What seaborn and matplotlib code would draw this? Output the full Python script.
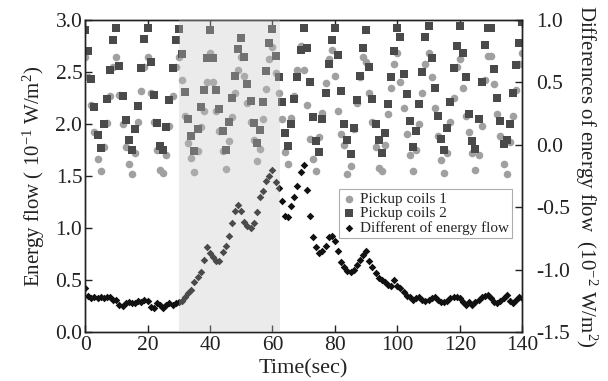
import matplotlib
matplotlib.use("Agg")
import matplotlib.pyplot as plt
import seaborn as sns
import numpy as np

time = list(range(0, 141))

coil1 = [2.64, 2.45, 2.18, 1.92, 1.66, 1.55, 1.78, 2.01, 2.27, 2.55,
         2.64, 2.28, 2.00, 1.78, 1.62, 1.52, 1.72, 2.02, 2.32, 2.55,
         2.64, 2.30, 2.02, 1.75, 1.56, 1.53, 1.70, 1.98, 2.27, 2.55,
         2.64, 2.42, 2.08, 1.82, 1.67, 1.54, 1.74, 1.97, 2.12, 2.40,
         2.68, 2.40, 2.12, 1.93, 1.74, 1.57, 1.84, 2.07, 2.30, 2.52,
         2.64, 2.46, 2.20, 2.02, 1.85, 1.64, 1.76, 2.05, 2.34, 2.62,
         2.74, 2.49, 2.30, 2.05, 1.73, 1.62, 2.06, 2.27, 2.52, 2.75,
         2.52, 2.18, 1.86, 1.66, 1.55, 1.87, 2.11, 2.39, 2.62, 2.71,
         2.46, 2.12, 1.90, 1.80, 1.52, 1.60, 1.95, 2.20, 2.45, 2.64,
         2.60, 2.30, 2.02, 1.78, 1.58, 1.55, 1.80, 2.10, 2.35, 2.58,
         2.68, 2.40, 2.15, 1.90, 1.70, 1.55, 1.75, 2.00, 2.30, 2.58,
         2.68, 2.45, 2.15, 1.88, 1.65, 1.53, 1.72, 2.02, 2.25, 2.55,
         2.62, 2.35, 2.08, 1.92, 1.72, 1.56, 1.70, 1.98, 2.42, 2.65,
         2.65, 2.38, 2.10, 1.88, 1.62, 1.52, 1.83, 2.08, 2.33, 2.58,
         2.68]

coil2 = [2.90, 2.70, 2.43, 2.16, 1.89, 1.77, 2.00, 2.24, 2.52, 2.81,
         2.92, 2.56, 2.27, 2.04, 1.85, 1.75, 1.95, 2.17, 2.54, 2.82,
         2.92, 2.60, 2.28, 2.01, 1.79, 1.75, 1.97, 2.23, 2.54, 2.81,
         2.91, 2.67, 2.31, 2.05, 1.88, 1.74, 1.95, 2.16, 2.33, 2.63,
         2.90, 2.63, 2.33, 2.14, 1.93, 1.75, 2.02, 2.25, 2.46, 2.72,
         2.83, 2.64, 2.38, 2.22, 2.01, 1.82, 1.94, 2.21, 2.51, 2.78,
         2.91, 2.65, 2.45, 2.21, 1.91, 1.79, 2.00, 2.24, 2.45, 2.71,
         2.92, 2.73, 2.40, 2.07, 1.84, 1.73, 2.05, 2.30, 2.58, 2.81,
         2.92, 2.66, 2.32, 2.00, 1.85, 1.71, 1.96, 2.23, 2.46, 2.73,
         2.90, 2.55, 2.24, 2.00, 1.85, 1.72, 1.91, 2.19, 2.45, 2.70,
         2.92, 2.84, 2.48, 2.29, 2.03, 1.78, 1.93, 2.19, 2.50, 2.84,
         2.94, 2.63, 2.35, 2.08, 1.86, 1.75, 1.96, 2.21, 2.54, 2.75,
         2.94, 2.68, 2.45, 2.10, 1.84, 1.76, 2.05, 2.40, 2.76, 2.92,
         2.92, 2.53, 2.25, 2.03, 1.81, 1.85, 2.00, 2.30, 2.57, 2.78,
         2.98]

diff = [-1.15, -1.21, -1.23, -1.22, -1.23, -1.22, -1.23, -1.22, -1.22, -1.24,
        -1.24, -1.28, -1.29, -1.27, -1.26, -1.27, -1.27, -1.25, -1.26, -1.24,
        -1.25, -1.30, -1.31, -1.27, -1.28, -1.31, -1.28, -1.27, -1.28, -1.27,
        -1.26, -1.25, -1.22, -1.19, -1.16, -1.10, -1.06, -1.02, -0.92, -0.82,
        -0.87, -0.90, -0.93, -0.93, -0.86, -0.81, -0.73, -0.63, -0.53, -0.48,
        -0.53, -0.62, -0.65, -0.67, -0.63, -0.54, -0.42, -0.37, -0.29, -0.25,
        -0.20, -0.30, -0.35, -0.45, -0.57, -0.58, -0.49, -0.42, -0.33, -0.22,
        -0.16, -0.36, -0.57, -0.74, -0.82, -0.87, -0.85, -0.81, -0.74, -0.73,
        -0.77, -0.85, -0.94, -0.98, -1.01, -1.02, -1.00, -0.96, -0.92, -0.88,
        -0.85, -0.93, -0.98, -1.03, -1.07, -1.08, -1.10, -1.12, -1.13, -1.08,
        -1.13, -1.15, -1.18, -1.21, -1.22, -1.24, -1.23, -1.22, -1.24, -1.25,
        -1.24, -1.23, -1.22, -1.24, -1.26, -1.26, -1.25, -1.23, -1.22, -1.22,
        -1.23, -1.26, -1.28, -1.26, -1.28, -1.26, -1.24, -1.22, -1.21, -1.20,
        -1.23, -1.26, -1.27, -1.25, -1.23, -1.20, -1.25, -1.27, -1.24, -1.22,
        -1.23]

shade_start, shade_end = 30, 62.3

x_ticks = [0, 20, 40, 60, 80, 100, 120, 140]
left_ticks = [0.0, 0.5, 1.0, 1.5, 2.0, 2.5, 3.0]
right_ticks = [-1.5, -1.0, -0.5, 0.0, 0.5, 1.0]

sns.set_theme(style="ticks")
plt.rcParams["font.family"] = ["Liberation Serif", "DejaVu Serif"]
plt.rcParams["mathtext.fontset"] = "custom"
plt.rcParams["mathtext.rm"] = "Liberation Serif"
plt.rcParams["mathtext.it"] = "Liberation Serif:italic"
plt.rcParams["axes.unicode_minus"] = False

fig = plt.figure(figsize=(6.08, 3.81), dpi=100)
ax = fig.add_axes([0.14, 0.1286, 0.719, 0.819])
ax2 = ax.twinx()

sns.scatterplot(x=time, y=coil1, ax=ax, marker="o", color="#a0a0a0", s=30,
                linewidth=0, label="Pickup coils 1", legend=False)
sns.scatterplot(x=time, y=coil2, ax=ax, marker="s", color="#4a4a4a", s=28,
                linewidth=0, label="Pickup coils 2", legend=False)
sns.scatterplot(x=time, y=diff, ax=ax2, marker="D", color="#111111", s=15,
                linewidth=0, label="Different of energy flow", legend=False)

ax2.axvspan(shade_start, shade_end, color="#c4c4c4", alpha=0.33, linewidth=0, zorder=5)

ax.set_xlim(0, 140)
ax.set_ylim(0, 3.0)
ax2.set_ylim(-1.5, 1.0)
ax.set_xticks(x_ticks)
ax.set_xticklabels([str(v) for v in x_ticks])
ax.set_yticks(left_ticks)
ax.set_yticklabels([f"{v:.1f}" for v in left_ticks])
ax2.set_yticks(right_ticks)
ax2.set_yticklabels([f"{v:.1f}" for v in right_ticks])

for a in (ax, ax2):
    for sp in a.spines.values():
        sp.set_visible(True)
        sp.set_color("#222222")
        sp.set_linewidth(1.0)
ax.tick_params(axis="x", direction="in", length=5, width=1, top=True,
               labelsize=15.5, pad=3, colors="#222222")
ax.tick_params(axis="y", direction="in", length=5, width=1, labelsize=15.5,
               pad=2, colors="#222222")
ax2.tick_params(axis="y", direction="in", length=5, width=1, labelsize=15.5,
                pad=10, colors="#222222")

ax.set_xlabel("Time(sec)", fontsize=16, labelpad=3, color="#222222")
ax.set_ylabel(r"Energy flow ( $10^{-1}$ W/m$^{2}$)", fontsize=15, labelpad=6, color="#222222")
ax2.set_ylabel(r"Differences of energy flow  ($10^{-2}$ W/m$^{2}$)", fontsize=15,
               rotation=-90, labelpad=21, color="#222222")

h1, l1 = ax.get_legend_handles_labels()
h2, l2 = ax2.get_legend_handles_labels()
leg = ax2.legend(h1 + h2, l1 + l2, loc="upper right", bbox_to_anchor=(0.977, 0.458),
                 fontsize=11, frameon=True, fancybox=False, borderpad=0.2,
                 handletextpad=0.2, labelspacing=0.05, handlelength=1.0,
                 borderaxespad=0, markerscale=1.0)
leg.get_frame().set_edgecolor("#999999")
leg.get_frame().set_linewidth(0.8)
leg.set_zorder(10)

fig.savefig("out.png", dpi=100)
